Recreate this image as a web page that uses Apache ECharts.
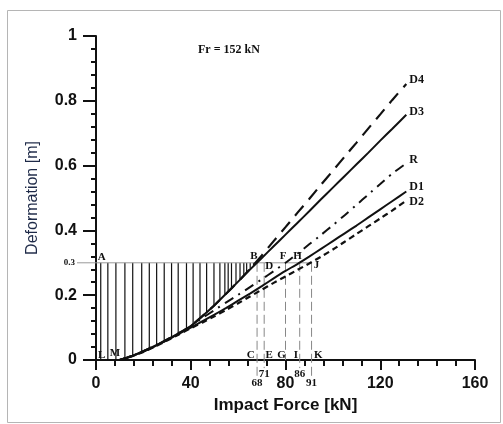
<!DOCTYPE html>
<html><head><meta charset="utf-8">
<script src="https://cdn.jsdelivr.net/npm/echarts@6/dist/echarts.min.js"></script>
<style>html,body{margin:0;padding:0;background:#fff}#c{width:503px;height:424px}</style>
</head><body><div id="c"></div>
<script>
// ---- data ----
const forceX = [10,15,20,25,30,35,40,45,50,55,60,65,70,75,80,85,90,95,100,105,110,115,120,125,131];
const d4Y = [0,0.012,0.027,0.044,0.063,0.083,0.105,0.136,0.169,0.205,0.242,0.281,0.323,0.367,0.41,0.454,0.497,0.541,0.584,0.628,0.671,0.715,0.758,0.802,0.852];
const d3Y = [0,0.012,0.027,0.044,0.063,0.083,0.105,0.136,0.169,0.205,0.242,0.279,0.315,0.351,0.387,0.423,0.459,0.496,0.532,0.568,0.604,0.640,0.677,0.713,0.757];
const rY  = [0,0.012,0.027,0.044,0.062,0.082,0.104,0.13,0.154,0.178,0.201,0.225,0.249,0.274,0.3,0.328,0.357,0.386,0.416,0.447,0.479,0.511,0.543,0.575,0.607];
const d1Y = [0,0.012,0.026,0.043,0.061,0.081,0.1,0.12,0.14,0.161,0.183,0.205,0.228,0.252,0.275,0.296,0.319,0.343,0.367,0.391,0.415,0.44,0.465,0.49,0.52];
const d2Y = [0,0.011,0.025,0.042,0.06,0.079,0.098,0.116,0.135,0.155,0.175,0.196,0.217,0.238,0.258,0.278,0.298,0.319,0.341,0.365,0.389,0.413,0.437,0.461,0.492];
const seriesNames = ['D4','D3','R','D1','D2'];

const refY = 0.3;          // allowable deformation
const refEndX = 91;
const hatchX = [2,5,8.4,12.2,15.5,19.3,22.5,25.6,28.8,31.9,34.7,38.2,41,43.9,46.7,49.8,52.3,54.4,55.8,57.2,59.1,60.8,62.4,63.6,65.1,66.5];
const guideX = [68,71,80,86,91];
const guideBottom = [-0.05,-0.025,0,-0.025,-0.05];
const guideText = ['68','71','','86','91'];
const pointNames = ['A','B','D','F','H','J','L','M','C','E','G','I','K'];
const pointX = [2.4,66.7,73.1,79,85.1,93.1,2.4,8,65.3,73.1,78.3,84.4,93.8];
const pointY = [0.316,0.319,0.289,0.319,0.319,0.294,0.016,0.02,0.016,0.016,0.016,0.016,0.016];
const titleText = 'Fr = 152 kN';

// ---- helpers ----
function zip(xs, ys){ return xs.map((x,i)=>[x, ys[i]]); }
function interp(xs, ys, x){
  if (x <= xs[0]) return ys[0];
  for (let i=1;i<xs.length;i++){
    if (x <= xs[i]){ const t=(x-xs[i-1])/(xs[i]-xs[i-1]); return ys[i-1]+t*(ys[i]-ys[i-1]); }
  }
  return ys[ys.length-1];
}

const INK = '#111';
const serif = '"Liberation Serif","DejaVu Serif",serif';
const sans = '"Liberation Sans",Arial,sans-serif';
const dashes = {D4:[13,8], D3:'solid', R:[10,6,2,6], D1:'solid', D2:[6,4]};
const widths = {D4:2.2, D3:2, R:2, D1:2, D2:2.2};
const labelOffsets = {D4:[0,-4], D3:[0,-3], R:[0,-3], D1:[0,-5], D2:[0,1]};
const ys = {D4:d4Y, D3:d3Y, R:rY, D1:d1Y, D2:d2Y};

const lineSeries = seriesNames.map(n => ({
  type:'line', name:n, data: zip(forceX, ys[n]), showSymbol:false, smooth:0.2,
  lineStyle:{color:INK, width:widths[n], type:dashes[n]},
  endLabel:{show:true, formatter:'{a}', distance:3, offset:labelOffsets[n], fontFamily:serif, fontWeight:'bold', fontSize:12, color:INK},
  z:3
}));

const chart = echarts.init(document.getElementById('c'), null, {renderer:'canvas'});
chart.setOption({
  animation:false,
  backgroundColor:'#fff',
  title:{text:titleText, left:193, top:39, textStyle:{fontFamily:serif, fontWeight:'bold', fontSize:12, color:INK}},
  graphic:[{type:'rect', shape:{x:7.5,y:10.5,width:493,height:412}, style:{fill:null, stroke:'#b5b5b5', lineWidth:1}, z:-10}],
  grid:{left:96, right:28, top:36, bottom:64},
  xAxis:{
    type:'value', min:0, max:160, interval:40,
    axisLine:{lineStyle:{color:INK, width:2}},
    axisTick:{length:10, lineStyle:{color:INK, width:2}},
    minorTick:{show:true, splitNumber:5, length:6, lineStyle:{color:INK, width:2}},
    splitLine:{show:false},
    axisLabel:{margin:16, fontFamily:sans, fontWeight:'bold', fontSize:16, color:INK},
    name:'Impact Force [kN]', nameLocation:'middle', nameGap:33,
    nameTextStyle:{fontFamily:sans, fontWeight:'bold', fontSize:17, color:INK}
  },
  yAxis:{
    type:'value', min:0, max:1, interval:0.2,
    axisLine:{lineStyle:{color:INK, width:2}},
    axisTick:{length:13, lineStyle:{color:INK, width:2}},
    minorTick:{show:true, splitNumber:5, length:5, lineStyle:{color:INK, width:2}},
    splitLine:{show:false},
    axisLabel:{margin:19, fontFamily:sans, fontWeight:'bold', fontSize:16, color:INK},
    name:'Deformation [m]', nameLocation:'middle', nameGap:55, nameRotate:90,
    nameTextStyle:{fontFamily:sans, fontSize:16, color:'#1e2a48'}
  },
  series:[
    // hatching between allowable deformation and D3
    {type:'custom', data: hatchX.map(x => [x, interp(forceX, d3Y, x)]), z:1,
     renderItem:(p, api) => {
       const a = api.coord([api.value(0), refY]);
       const b = api.coord([api.value(0), api.value(1)]);
       return {type:'line', shape:{x1:a[0], y1:a[1], x2:b[0], y2:b[1]}, style:{stroke:INK, lineWidth:1.2}};
     }},
    // reference line at 0.3
    {type:'custom', data:[[0, refY]], z:2,
     renderItem:(p, api) => {
       const a = api.coord([0, refY]);
       const b = api.coord([refEndX, refY]);
       return {type:'group', children:[
         {type:'line', shape:{x1:a[0]-19, y1:a[1], x2:b[0], y2:b[1]}, style:{stroke:'#999', lineWidth:1}},
         {type:'text', x:a[0]-21, y:a[1], style:{text:String(refY), font:'bold 9px '+serif, fill:INK, align:'right', verticalAlign:'middle'}}
       ]};
     }},
    // vertical guide lines
    {type:'custom', data: guideX.map((x,i) => [x, guideBottom[i]]), z:2, clip:false,
     renderItem:(p, api) => {
       const i = p.dataIndex;
       const a = api.coord([api.value(0), refY]);
       const b = api.coord([api.value(0), api.value(1)]);
       const ch = [{type:'line', shape:{x1:a[0], y1:a[1], x2:b[0], y2:b[1]}, style:{stroke:'#888', lineWidth:1, lineDash:[9,4]}}];
       if (guideText[i]) ch.push({type:'text', x:b[0], y:b[1]+1, style:{text:guideText[i], font:'bold 11px '+serif, fill:INK, align:'center', verticalAlign:'top'}});
       return {type:'group', children:ch};
     }},
    // point letters
    {type:'custom', data: pointX.map((x,i) => [x, pointY[i]]), z:4, clip:false,
     renderItem:(p, api) => {
       const a = api.coord([api.value(0), api.value(1)]);
       return {type:'text', x:a[0], y:a[1], style:{text:pointNames[p.dataIndex], font:'bold 11px '+serif, fill:INK, align:'center', verticalAlign:'middle'}};
     }},
    ...lineSeries
  ]
});
</script>
</body></html>
